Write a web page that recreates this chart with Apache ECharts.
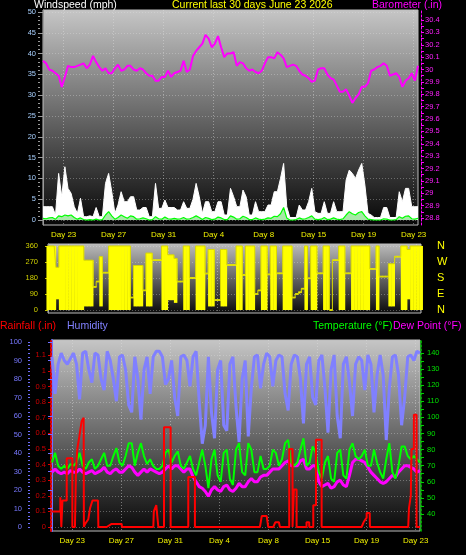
<!DOCTYPE html>
<html><head><meta charset="utf-8">
<script src="https://cdn.jsdelivr.net/npm/echarts@6/dist/echarts.min.js"></script>
<style>html,body{margin:0;padding:0;background:#000;}#c{width:466px;height:555px;}</style>
</head><body><div id="c"></div>
<script>
// ---- data (30-day window, samples every 0.25 day, day 0 = left edge) ----
const sampleStepDays = 0.25;
const dayTickPositions = [1.65, 5.65, 9.65, 13.65, 17.65, 21.65, 25.65, 29.65];
const dayTickLabels = ['Day 23', 'Day 27', 'Day 31', 'Day 4', 'Day 8', 'Day 15', 'Day 19', 'Day 23'];

const windTicks = [0, 5, 10, 15, 20, 25, 30, 35, 40, 45, 50];
const baroTicks = [28.8, 28.9, 29, 29.1, 29.2, 29.3, 29.4, 29.5, 29.6, 29.7, 29.8, 29.9, 30, 30.1, 30.2, 30.3, 30.4];
const dirTicks = [0, 90, 180, 270, 360];
const compassLabels = ['N', 'E', 'S', 'W', 'N'];
const humidityTicks = [0, 10, 20, 30, 40, 50, 60, 70, 80, 90, 100];
const rainTicks = [0, 0.1, 0.2, 0.3, 0.4, 0.5, 0.6, 0.7, 0.8, 0.9, 1, 1.1];
const tempTicks = [40, 50, 60, 70, 80, 90, 100, 110, 120, 130, 140];

const barometer = [
 30.07,30.05,30.00,29.99,29.97,29.95,29.86,29.94,30.03,30.02,
 30.02,30.03,30.04,30.05,30.01,30.04,30.11,30.06,30.02,29.99,
 30.01,29.97,29.97,30.01,30.04,29.99,30.00,30.03,30.03,30.00,
 29.99,30.01,30.00,29.97,29.95,29.95,29.91,29.91,29.94,29.94,
 29.99,29.94,29.97,29.98,29.99,30.07,29.98,30.00,30.11,30.15,
 30.18,30.21,30.28,30.25,30.18,30.21,30.27,30.18,30.10,30.13,
 30.13,30.14,30.03,30.06,30.05,30.01,29.99,30.00,29.98,29.97,
 29.99,30.05,30.10,30.10,30.09,30.14,30.12,30.09,30.02,30.03,
 30.04,30.03,29.99,29.96,29.95,29.93,29.90,29.91,30.00,30.01,
 30.01,29.96,29.93,29.92,29.87,29.82,29.82,29.84,29.79,29.73,
 29.77,29.80,29.86,29.86,29.89,29.99,30.00,30.02,30.03,30.05,
 30.03,29.95,29.96,29.97,29.94,29.86,29.91,29.93,29.97,29.91,
 30.03];

const windGust = [
 3.2,3.2,3.2,3.2,1.2,11.2,5.6,12.8,7.6,6.4,
 3.2,1.6,5.2,0.8,0.8,1.0,0.8,3.0,0.8,0.8,
 8.8,11.2,6.8,1.6,3.6,6.8,4.4,4.4,5.6,5.6,
 2.4,2.4,3.0,3.0,0.8,0.8,8.8,2.8,2.8,4.8,
 3.0,3.0,3.0,2.4,2.4,4.4,2.8,2.8,5.0,8.8,
 5.6,1.6,4.4,4.4,2.0,2.0,4.4,4.4,1.2,1.2,
 7.6,5.6,3.2,3.2,7.2,5.6,1.2,1.2,4.4,2.0,
 2.0,2.0,3.6,3.6,6.8,6.8,10.0,13.6,3.2,0.6,
 0.6,0.6,3.6,2.4,2.4,4.4,7.6,2.0,1.6,1.6,
 4.4,1.6,1.6,4.4,2.0,2.0,2.0,9.6,12.0,11.2,
 10.0,12.0,13.6,8.4,1.6,1.2,0.6,0.6,0.6,3.0,
 3.0,0.6,0.6,0.6,6.8,4.4,7.6,7.6,3.2,3.2,
 3.2];

const windAvg = [
 0.4,0.3,0.5,0.6,0.2,1.0,0.8,1.2,1.0,1.2,
 0.6,0.2,0.5,0.1,0.0,0.1,0.0,0.2,0.0,0.1,
 1.2,2.0,1.0,0.2,0.6,1.2,0.8,0.4,1.0,0.8,
 0.2,0.3,0.5,0.3,0.0,0.1,0.8,0.3,0.2,0.7,
 0.3,0.2,0.4,0.2,0.3,0.6,0.2,0.3,0.6,1.0,
 0.6,0.1,0.6,0.4,0.1,0.2,0.7,0.5,0.1,0.1,
 1.0,0.7,0.2,0.3,0.9,0.6,0.1,0.1,0.5,0.2,
 0.1,0.2,0.5,0.4,0.9,0.8,1.5,3.0,0.5,0.0,
 0.0,0.1,0.5,0.2,0.3,0.6,1.0,0.2,0.1,0.2,
 0.6,0.1,0.2,0.5,0.2,0.1,0.3,1.2,2.0,1.5,
 1.2,1.8,2.0,1.0,0.2,0.1,0.0,0.0,0.0,0.3,
 0.2,0.0,0.0,0.1,0.8,0.4,0.9,1.0,0.3,0.2,
 0.4];

// wind direction spread per sample (lowest / highest heading seen)
const windDirLow = [
 0,0,0,60,0,0,0,0,0,0,
 0,0,20,20,20,130,160,20,210,210,
 0,0,0,0,0,0,0,70,20,20,
 20,110,20,20,280,280,280,0,0,55,
 55,40,160,160,0,0,180,180,0,0,
 0,205,20,20,56,56,20,20,253,253,
 253,0,0,197,0,0,0,90,110,0,
 0,200,0,0,206,206,0,0,0,70,
 90,100,120,0,178,0,0,206,206,0,
 0,0,280,280,0,0,206,206,0,0,
 0,0,0,0,231,231,0,188,188,188,
 20,20,300,300,0,0,60,0,0,0,
 0];
const windDirHigh = [
 360,360,360,240,360,360,360,360,360,360,
 360,360,280,280,280,130,160,300,210,210,
 360,360,360,360,360,360,360,70,250,250,
 250,110,320,320,280,280,280,360,360,310,
 310,290,160,160,360,360,180,180,360,360,
 360,205,340,340,56,56,340,340,253,253,
 253,360,360,197,360,360,360,90,110,360,
 360,200,360,360,206,206,360,360,360,70,
 90,100,120,360,178,360,360,206,206,360,
 360,0,280,280,360,360,206,206,360,360,
 360,360,360,360,231,231,360,188,188,188,
 260,260,300,300,360,360,340,360,360,360,
 360];

const humidity = [
 92,72,88,94,90,88,91,94,88,69,
 94,95,85,78,94,93,80,74,95,90,
 80,68,92,93,85,66,62,92,80,58,
 85,92,72,92,95,95,92,77,80,90,
 70,60,92,93,90,76,92,95,68,45,
 55,92,62,48,85,90,55,52,88,92,
 65,46,80,90,49,75,92,93,75,88,
 94,92,76,90,93,92,72,63,88,93,
 92,80,56,88,92,70,66,90,93,75,
 51,85,93,60,48,88,92,78,60,88,
 92,90,74,93,88,62,82,93,82,47,
 75,92,93,82,55,70,92,93,90,95,
 94];

const temperature = [
 72,78,70,68,70,68,71,70,72,78,
 70,68,72,74,68,70,74,78,70,70,
 76,81,72,70,76,84,84,70,78,84,
 76,71,74,70,68,68,70,78,80,72,
 76,79,70,68,72,76,68,64,72,80,
 70,56,74,80,64,60,78,80,62,58,
 80,84,66,64,84,80,66,66,76,68,
 68,70,80,78,70,74,84,86,72,70,
 72,80,87,70,72,82,78,66,62,72,
 76,62,60,78,80,64,62,80,84,76,
 74,76,80,70,70,80,72,66,62,74,
 84,66,62,70,82,82,76,74,76,74,
 72];

const dewPoint = [
 66,68,66,65,66,65,67,66,66,68,
 66,65,66,67,65,66,67,69,66,65,
 67,68,66,66,68,70,69,66,64,66,
 68,66,68,67,66,65,66,68,70,68,
 70,70,68,66,68,68,63,60,57,56,
 54,51,55,57,55,54,57,58,55,54,
 56,59,57,57,60,62,60,60,63,64,
 64,66,68,68,68,70,72,73,70,70,
 70,73,74,68,68,70,70,60,57,58,
 59,56,57,60,61,58,57,64,72,74,
 74,73,72,69,66,64,62,60,59,60,
 62,64,63,66,68,70,70,69,68,66,
 67];

// rainfall (.in): change points, day -> value
const rainDays = [0,0.68,0.68,0.76,0.76,0.85,0.85,1.2,1.2,1.66,1.66,1.87,1.95,2.06,2.23,2.42,2.58,2.6,2.7,2.96,
 3.1,3.3,3.75,3.78,4.46,4.5,4.86,5.68,5.7,8.26,8.3,8.5,8.65,8.67,9.13,9.13,9.67,9.67,11.11,11.11,
 11.65,11.65,16.95,17.1,17.5,17.63,18.04,18.2,18.5,18.58,19.34,19.34,19.61,19.61,19.72,19.72,19.94,19.94,20.75,20.75,
 20.97,20.97,21.3,21.3,21.52,21.52,21.98,21.98,25.24,25.4,25.65,25.65,25.9,25.92,29.04,29.1,29.25,29.31,29.5,29.5,
 29.72,29.72,30];
const rainValues = [0.1,0.1,0.19,0.19,0,0,0.17,0.17,0.44,0.44,0,0,0.35,0.5,0.58,0.68,0.7,0,0.02,0.05,
 0.12,0.17,0.17,0,0,0.01,0.02,0.02,0,0,0.1,0.14,0.14,0,0,0.64,0.64,0,0,0.32,
 0.32,0,0,0.07,0.07,0,0,0.03,0.03,0,0,0.5,0.5,0,0,0.24,0.24,0,0,0.03,
 0.03,0,0,0.14,0.14,0.56,0.56,0,0,0.03,0.06,0.09,0.09,0,0,0.12,0.2,0.5,0.5,0.72,
 0.72,0,0];

// ---- chart ----
const FONT = 'Liberation Sans, Arial, sans-serif';
const toSeries = arr => arr.map((v, i) => [i * sampleStepDays, v]);
const dirRangeData = windDirLow.map((lo, i) => [i * sampleStepDays, lo, windDirHigh[i]]);
const rainData = rainDays.map((d, i) => [d, rainValues[i]]);
const dayLabel = v => {
  let best = 0;
  dayTickPositions.forEach((p, i) => { if (Math.abs(p - v) < Math.abs(dayTickPositions[best] - v)) best = i; });
  return dayTickLabels[best];
};
const compass = v => {
  let best = 0;
  dirTicks.forEach((p, i) => { if (Math.abs(p - v) < Math.abs(dirTicks[best] - v)) best = i; });
  return compassLabels[best];
};
const windMinor = []; for (let m = 0; m <= 50; m++) windMinor.push(m);
const baroMinor = []; for (let k = 0; k <= 32; k++) baroMinor.push(+(28.8 + k * 0.05).toFixed(2));
const humMinor = []; for (let k = 0; k <= 50; k++) humMinor.push(k * 2);
const tempMinor = []; for (let k = 0; k <= 20; k++) tempMinor.push(40 + k * 5);

const grad = (top, bottom) => ({type: 'linear', x: 0, y: 0, x2: 0, y2: 1,
  colorStops: [{offset: 0, color: top}, {offset: 1, color: bottom}]});

function xAxisFor(gridIndex, showLabels) {
  return {
    type: 'value', gridIndex, min: 0, max: 30,
    axisLine: {show: false},
    axisTick: {show: false, customValues: dayTickPositions},
    axisLabel: {show: showLabels, customValues: dayTickPositions, formatter: dayLabel,
      color: '#f0f000', fontSize: 8, margin: 6, fontFamily: FONT},
    splitLine: {show: true, lineStyle: {color: 'rgba(225,225,225,0.45)', type: [1, 2], width: 1}}
  };
}
const splitDotted = {show: true, lineStyle: {color: 'rgba(225,225,225,0.35)', type: [1, 2], width: 1}};

function renderDirRange(params, api) {
  const t = api.value(0), lo = api.value(1), hi = api.value(2);
  const pTop = api.coord([t - sampleStepDays / 2, hi]);
  const pBot = api.coord([t + sampleStepDays / 2, lo]);
  let y = pTop[1], h = pBot[1] - pTop[1];
  if (h < 1.6) { y = (pTop[1] + pBot[1]) / 2 - 0.8; h = 1.6; }
  return {type: 'rect', shape: {x: pTop[0], y: y, width: pBot[0] - pTop[0] + 0.4, height: h},
    style: {fill: '#ffff00'}};
}

const option = {
  backgroundColor: '#000',
  animation: false,
  title: [
    {text: 'Windspeed (mph)', left: 34, top: 0, padding: 0, textStyle: {color: '#ffffff', fontSize: 10.5, fontWeight: 'normal', fontFamily: FONT}},
    {text: 'Current last 30 days June 23 2026', left: 172, top: 0, padding: 0, textStyle: {color: '#ffff00', fontSize: 10.5, fontWeight: 'normal', fontFamily: FONT}},
    {text: 'Barometer (.in)', left: 372, top: 0, padding: 0, textStyle: {color: '#ff00ff', fontSize: 10.5, fontWeight: 'normal', fontFamily: FONT}},
    {text: 'Rainfall (.in)', left: 0, top: 321, padding: 0, textStyle: {color: '#ff0000', fontSize: 10.5, fontWeight: 'normal', fontFamily: FONT}},
    {text: 'Humidity', left: 67, top: 321, padding: 0, textStyle: {color: '#8080ff', fontSize: 10.5, fontWeight: 'normal', fontFamily: FONT}},
    {text: 'Temperature (°F)', left: 313, top: 321, padding: 0, textStyle: {color: '#00ff00', fontSize: 10.5, fontWeight: 'normal', fontFamily: FONT}},
    {text: 'Dew Point (°F)', left: 393, top: 321, padding: 0, textStyle: {color: '#ff00ff', fontSize: 10.5, fontWeight: 'normal', fontFamily: FONT}}
  ],
  grid: [
    {left: 43, top: 10, width: 375, height: 215, show: true, backgroundColor: grad('#c6c6c6', '#060606'), borderColor: '#bdbdbd', borderWidth: 1, containLabel: false, outerBoundsMode: 'none'},
    {left: 48, top: 244, width: 373, height: 69, show: true, backgroundColor: grad('#bcbcbc', '#0a0a0a'), borderColor: '#bdbdbd', borderWidth: 1, containLabel: false, outerBoundsMode: 'none'},
    {left: 52, top: 340, width: 368, height: 191, show: true, backgroundColor: grad('#c6c6c6', '#080808'), borderColor: '#bdbdbd', borderWidth: 1, containLabel: false, outerBoundsMode: 'none'}
  ],
  xAxis: [xAxisFor(0, true), xAxisFor(1, false), xAxisFor(2, true)],
  yAxis: [
    // 0 wind speed
    {type: 'value', gridIndex: 0, position: 'left', offset: 3, min: -1.2, max: 50.48,
      axisLine: {show: true, lineStyle: {color: '#9a9a9a'}},
      axisTick: {show: true, customValues: windTicks, length: 4, lineStyle: {color: '#9a9a9a'}},
      axisLabel: {customValues: windTicks, color: '#a8d0ff', fontSize: 7.5, margin: 4, fontFamily: FONT},
      splitLine: splitDotted},
    // 1 wind minor ticks
    {type: 'value', gridIndex: 0, position: 'left', offset: 3, min: -1.2, max: 50.48,
      axisLine: {show: false}, axisTick: {show: true, customValues: windMinor, length: 2, lineStyle: {color: '#9a9a9a'}},
      axisLabel: {show: false}, splitLine: {show: false}},
    // 2 barometer
    {type: 'value', gridIndex: 0, position: 'right', offset: 3, min: 28.744, max: 30.481,
      axisLine: {show: true, lineStyle: {color: '#ff00ff', type: [2, 2]}},
      axisTick: {show: true, customValues: baroMinor, length: 3, lineStyle: {color: '#ff00ff'}},
      axisLabel: {customValues: baroTicks, color: '#ff20ff', fontSize: 7.5, margin: 4, fontFamily: FONT},
      splitLine: {show: false}},
    // 3 wind direction degrees
    {type: 'value', gridIndex: 1, position: 'left', offset: 0, min: -16.9, max: 371,
      axisLine: {show: true, lineStyle: {color: '#a0a0a0'}},
      axisTick: {show: true, customValues: dirTicks, length: 3, lineStyle: {color: '#c8c800'}},
      axisLabel: {customValues: dirTicks, color: '#d0d000', fontSize: 7.5, margin: 10, fontFamily: FONT},
      splitLine: splitDotted},
    // 4 compass
    {type: 'value', gridIndex: 1, position: 'right', offset: 0, min: -16.9, max: 371,
      axisLine: {show: false}, axisTick: {show: false, customValues: dirTicks},
      axisLabel: {customValues: dirTicks, formatter: compass, color: '#ffff00', fontSize: 11, margin: 16, fontFamily: FONT},
      splitLine: {show: false}},
    // 5 humidity
    {type: 'value', gridIndex: 2, position: 'left', offset: 22, min: -2.16, max: 101.08,
      axisLine: {show: true, lineStyle: {color: '#7070ff', width: 2}},
      axisTick: {show: true, customValues: humidityTicks, length: 4, lineStyle: {color: '#7070ff'}},
      axisLabel: {customValues: humidityTicks, color: '#7878ff', fontSize: 7.5, margin: 8, fontFamily: FONT},
      splitLine: {show: false}},
    // 6 humidity minor
    {type: 'value', gridIndex: 2, position: 'left', offset: 22, min: -2.16, max: 101.08,
      axisLine: {show: false}, axisTick: {show: true, customValues: humMinor, length: 2, lineStyle: {color: '#7070ff'}},
      axisLabel: {show: false}, splitLine: {show: false}},
    // 7 rainfall
    {type: 'value', gridIndex: 2, position: 'left', offset: 1, min: -0.0256, max: 1.1987,
      axisLine: {show: true, lineStyle: {color: '#e00000', width: 2, type: [2, 2]}},
      axisTick: {show: true, customValues: rainTicks, length: 3, lineStyle: {color: '#e00000'}},
      axisLabel: {customValues: rainTicks, color: '#d00000', fontSize: 7.5, margin: 5, fontFamily: FONT},
      splitLine: splitDotted},
    // 8 temperature / dew point
    {type: 'value', gridIndex: 2, position: 'right', offset: 1, min: 29.44, max: 148.07,
      axisLine: {show: true, lineStyle: {color: '#00d000', width: 1.5, type: [2, 2]}},
      axisTick: {show: true, customValues: tempMinor, length: 3, lineStyle: {color: '#00d000'}},
      axisLabel: {customValues: tempTicks, color: '#00e000', fontSize: 7.5, margin: 6, fontFamily: FONT},
      splitLine: {show: false}}
  ],
  series: [
    {name: 'Wind gust', type: 'line', xAxisIndex: 0, yAxisIndex: 0, data: toSeries(windGust), symbol: 'none',
      lineStyle: {color: '#ffffff', width: 1}, areaStyle: {color: '#ffffff', opacity: 1}, z: 2},
    {name: 'Wind avg', type: 'line', xAxisIndex: 0, yAxisIndex: 0, data: toSeries(windAvg), symbol: 'none',
      lineStyle: {color: '#00ff00', width: 1.2}, areaStyle: {color: '#a8e8a8', opacity: 1}, z: 3},
    {name: 'Barometer', type: 'line', xAxisIndex: 0, yAxisIndex: 2, data: toSeries(barometer), symbol: 'none',
      lineStyle: {color: '#ff00ff', width: 2}, z: 4},
    {name: 'Wind direction range', type: 'custom', xAxisIndex: 1, yAxisIndex: 3, data: dirRangeData,
      encode: {x: 0, y: [1, 2]}, renderItem: renderDirRange, z: 2},
    {name: 'Wind direction', type: 'line', xAxisIndex: 1, yAxisIndex: 3, data: toSeries(windDirHigh), symbol: 'none',
      step: 'middle', lineStyle: {color: '#d8d800', width: 1}, z: 3},
    {name: 'Humidity', type: 'line', xAxisIndex: 2, yAxisIndex: 5, data: toSeries(humidity), symbol: 'none',
      lineStyle: {color: '#8080ff', width: 3}, z: 2},
    {name: 'Dew Point', type: 'line', xAxisIndex: 2, yAxisIndex: 8, data: toSeries(dewPoint), symbol: 'none',
      lineStyle: {color: '#ff00ff', width: 3}, z: 3},
    {name: 'Temperature', type: 'line', xAxisIndex: 2, yAxisIndex: 8, data: toSeries(temperature), symbol: 'none',
      lineStyle: {color: '#00ff00', width: 2}, z: 4},
    {name: 'Rainfall', type: 'line', xAxisIndex: 2, yAxisIndex: 7, data: rainData, symbol: 'none',
      lineStyle: {color: '#ff0000', width: 2}, z: 5}
  ]
};
const chart = echarts.init(document.getElementById('c'), null, {renderer: 'canvas'});
chart.setOption(option);
</script>
</body></html>
